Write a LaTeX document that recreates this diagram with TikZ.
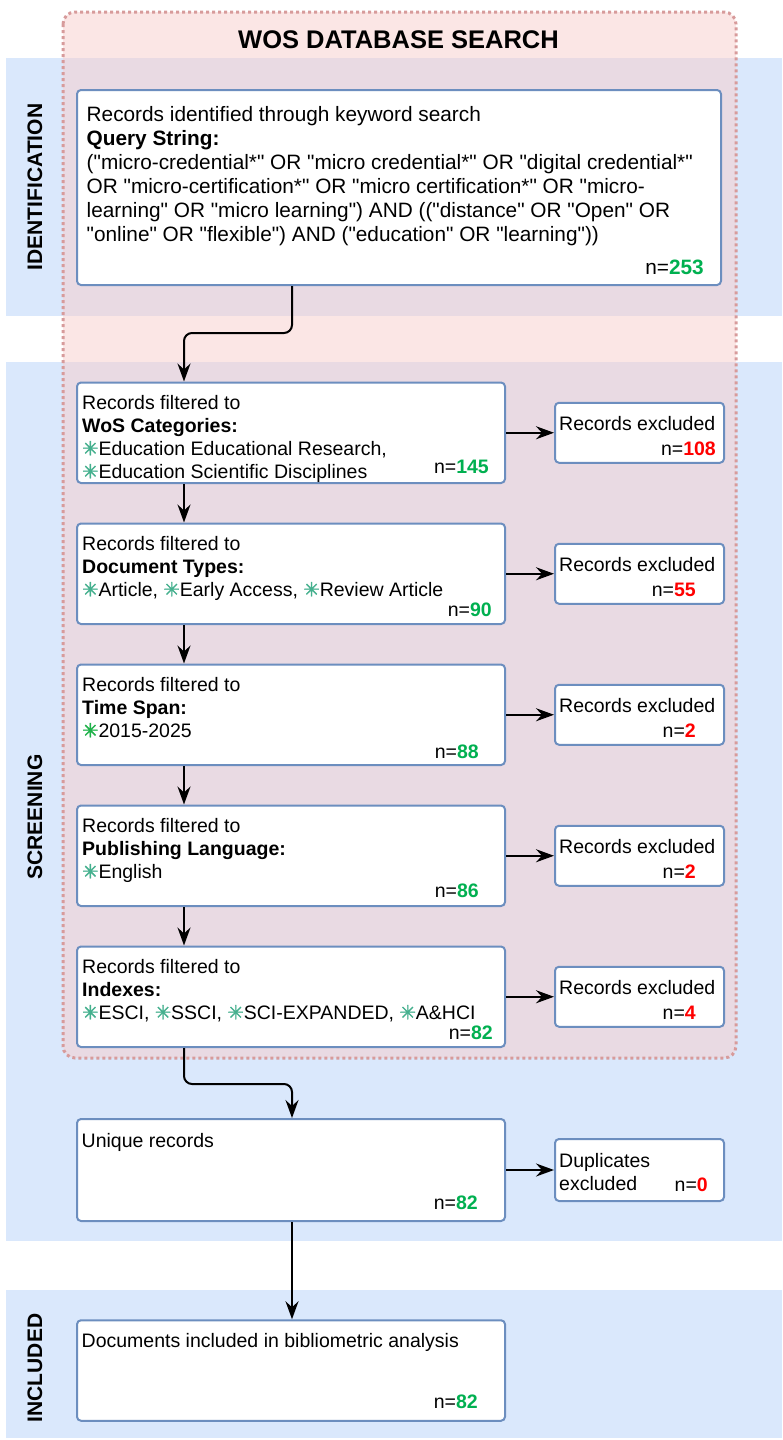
\documentclass[tikz,border=0pt]{standalone}
\usepackage{fontspec}
\setmainfont{Liberation Sans}[Ligatures=TeXOff]
\newfontfamily\symfont{DejaVu Sans}[FakeBold=1.6]
\usetikzlibrary{arrows.meta,positioning}
\definecolor{bandblue}{HTML}{DAE8FC}
\definecolor{boxblue}{HTML}{6C8EBF}
\definecolor{wospink}{HTML}{F8CECC}
\definecolor{wosdot}{HTML}{D79B9B}
\definecolor{ngreen}{HTML}{00B050}
\definecolor{nred}{HTML}{FF0000}
\definecolor{critlight}{HTML}{45B08E}
\definecolor{critdark}{HTML}{1FB24A}
\newcommand{\ngood}[1]{\textcolor{ngreen}{\textbf{#1}}}
\newcommand{\nbad}[1]{\textcolor{nred}{\textbf{#1}}}
\newcommand{\crit}[1][critlight]{{\symfont\color{#1}\char"2733}}
\tikzset{>={Stealth[length=18pt,width=13pt,inset=6pt]},x=1pt,y=-1pt}
\tikzset{
    band/.style={fill=bandblue},
    wosbox/.style={fill=wospink,fill opacity=0.5,draw=wosdot,line width=3pt,dash pattern=on 3pt off 3pt,rounded corners=12pt},
    box/.style={draw=boxblue,line width=2pt,rounded corners=4pt,fill=white,inner sep=0pt,minimum width=428pt,minimum height=100.5pt},
    exbox/.style={box,minimum width=169pt,minimum height=60pt},
    txt/.style={anchor=north west,inner sep=0pt,align=left,font=\fontsize{19.5}{23}\selectfont},
    nlab/.style={anchor=base east,inner sep=0pt,font=\fontsize{19.5}{23}\selectfont},
    side/.style={rotate=90,inner sep=0pt,font=\fontsize{21}{25}\selectfont\bfseries},
    arr/.style={->,line width=2pt,rounded corners=8pt}
}
\begin{document}
\begin{tikzpicture}
    \useasboundingbox (0,0) rectangle (782,1440);
    \fill[band] (6,58) rectangle (782,316);
    \fill[band] (6,362) rectangle (782,1241);
    \fill[band] (6,1290) rectangle (782,1438);
    \draw[wosbox] (63,12) rectangle (736,1058);
    \node[anchor=base,inner sep=0pt,font=\fontsize{25.5}{30}\selectfont\bfseries] (title) at (398.5,48) {WOS DATABASE SEARCH};
    \node[side] (ident) at (35,187) {IDENTIFICATION};
    \node[side] (screen) at (35,817) {SCREENING};
    \node[side] (incl) at (35,1368) {INCLUDED};

    \node[box,minimum width=644pt,minimum height=195pt] (kw) at (399,187.5) {};
    \node[box] (cat) at (291,432.75) {};
    \node[box,below=38.5pt of cat] (doc) {};
    \node[box,below=38.5pt of doc] (time) {};
    \node[box,below=38.5pt of time] (lang) {};
    \node[box,below=38.5pt of lang] (idx) {};
    \node[box,minimum height=102pt] (uniq) at (291,1170) {};
    \node[box] (docs) at (291,1370.5) {};
    \node[exbox,right=48pt of cat] (catx) {};
    \node[exbox,right=48pt of doc] (docx) {};
    \node[exbox,right=48pt of time] (timex) {};
    \node[exbox,right=48pt of lang] (langx) {};
    \node[exbox,right=48pt of idx] (idxx) {};
    \node[exbox,minimum height=62pt,right=48pt of uniq] (dupx) {};

    \node[txt,font=\fontsize{20.8}{24}\selectfont] (kwt) at ([shift={(10.5,17)}]kw.north west) {Records identified through keyword search\\
        \textbf{Query String:}\\
        ("micro-credential*" OR "micro credential*" OR "digital credential*"\\
        OR "micro-certification*" OR "micro certification*" OR "micro-\\
        learning" OR "micro learning") AND (("distance" OR "Open" OR\\
        "online" OR "flexible") AND ("education" OR "learning"))};
    \node[nlab,font=\fontsize{20.8}{24}\selectfont] (kwn) at ([shift={(-18,-12)}]kw.south east) {n=\ngood{253}};

    \node[txt] (catt) at ([shift={(6,13.5)}]cat.north west) {Records filtered to\\\textbf{WoS Categories:}\\\crit Education Educational Research,\\\crit Education Scientific Disciplines};
    \node[nlab] (catn) at ([shift={(-17,-11)}]cat.south east) {n=\ngood{145}};
    \node[txt] (doct) at ([shift={(6,13.5)}]doc.north west) {Records filtered to\\\textbf{Document Types:}\\\crit Article, \crit Early Access, \crit Review Article};
    \node[nlab] (docn) at ([shift={(-14,-8.5)}]doc.south east) {n=\ngood{90}};
    \node[txt] (timet) at ([shift={(6,13.5)}]time.north west) {Records filtered to\\\textbf{Time Span:}\\\crit[critdark]2015-2025};
    \node[nlab] (timen) at ([shift={(-27,-8)}]time.south east) {n=\ngood{88}};
    \node[txt] (langt) at ([shift={(6,13.5)}]lang.north west) {Records filtered to\\\textbf{Publishing Language:}\\\crit English};
    \node[nlab] (langn) at ([shift={(-27,-9.5)}]lang.south east) {n=\ngood{86}};
    \node[txt] (idxt) at ([shift={(6,13.5)}]idx.north west) {Records filtered to\\\textbf{Indexes:}\\\crit ESCI, \crit SSCI, \crit SCI-EXPANDED, \crit A\&HCI};
    \node[nlab] (idxn) at ([shift={(-13,-9)}]idx.south east) {n=\ngood{82}};
    \node[txt] (uniqt) at ([shift={(5.5,15)}]uniq.north west) {Unique records};
    \node[nlab] (uniqn) at ([shift={(-28,-13)}]uniq.south east) {n=\ngood{82}};
    \node[txt] (docst) at ([shift={(5.5,14)}]docs.north west) {Documents included in bibliometric analysis};
    \node[nlab] (docsn) at ([shift={(-28,-13)}]docs.south east) {n=\ngood{82}};

    \node[txt] (catxt) at ([shift={(5,14)}]catx.north west) {Records excluded};
    \node[nlab] (catxn) at ([shift={(-9,-8)}]catx.south east) {n=\nbad{108}};
    \node[txt] (docxt) at ([shift={(5,14)}]docx.north west) {Records excluded};
    \node[nlab] (docxn) at ([shift={(-29,-8)}]docx.south east) {n=\nbad{55}};
    \node[txt] (timext) at ([shift={(5,14)}]timex.north west) {Records excluded};
    \node[nlab] (timexn) at ([shift={(-29,-8)}]timex.south east) {n=\nbad{2}};
    \node[txt] (langxt) at ([shift={(5,14)}]langx.north west) {Records excluded};
    \node[nlab] (langxn) at ([shift={(-29,-8)}]langx.south east) {n=\nbad{2}};
    \node[txt] (idxxt) at ([shift={(5,14)}]idxx.north west) {Records excluded};
    \node[nlab] (idxxn) at ([shift={(-29,-8)}]idxx.south east) {n=\nbad{4}};
    \node[txt] (dupxt) at ([shift={(5,15)}]dupx.north west) {Duplicates\\excluded};
    \node[nlab] (dupxn) at ([shift={(-17,-11)}]dupx.south east) {n=\nbad{0}};

    \coordinate (spine) at (184,0);
    \coordinate (mid) at (292,0);
    \coordinate (jog1) at (238,333);
    \coordinate (jog2) at (238,1084);
    \draw[arr] (kw.south -| mid) |- (jog1) -| (cat.north -| spine);
    \draw[arr] (cat.south -| spine) -- (doc.north -| spine);
    \draw[arr] (doc.south -| spine) -- (time.north -| spine);
    \draw[arr] (time.south -| spine) -- (lang.north -| spine);
    \draw[arr] (lang.south -| spine) -- (idx.north -| spine);
    \draw[arr] (idx.south -| spine) |- (jog2) -| (uniq.north -| mid);
    \draw[arr] (uniq.south -| mid) -- (docs.north -| mid);
    \foreach \src in {cat,doc,time,lang,idx}
        \draw[arr] (\src.east) -- (\src x.west);
    \draw[arr] (uniq.east) -- (dupx.west);
\end{tikzpicture}
\end{document}
